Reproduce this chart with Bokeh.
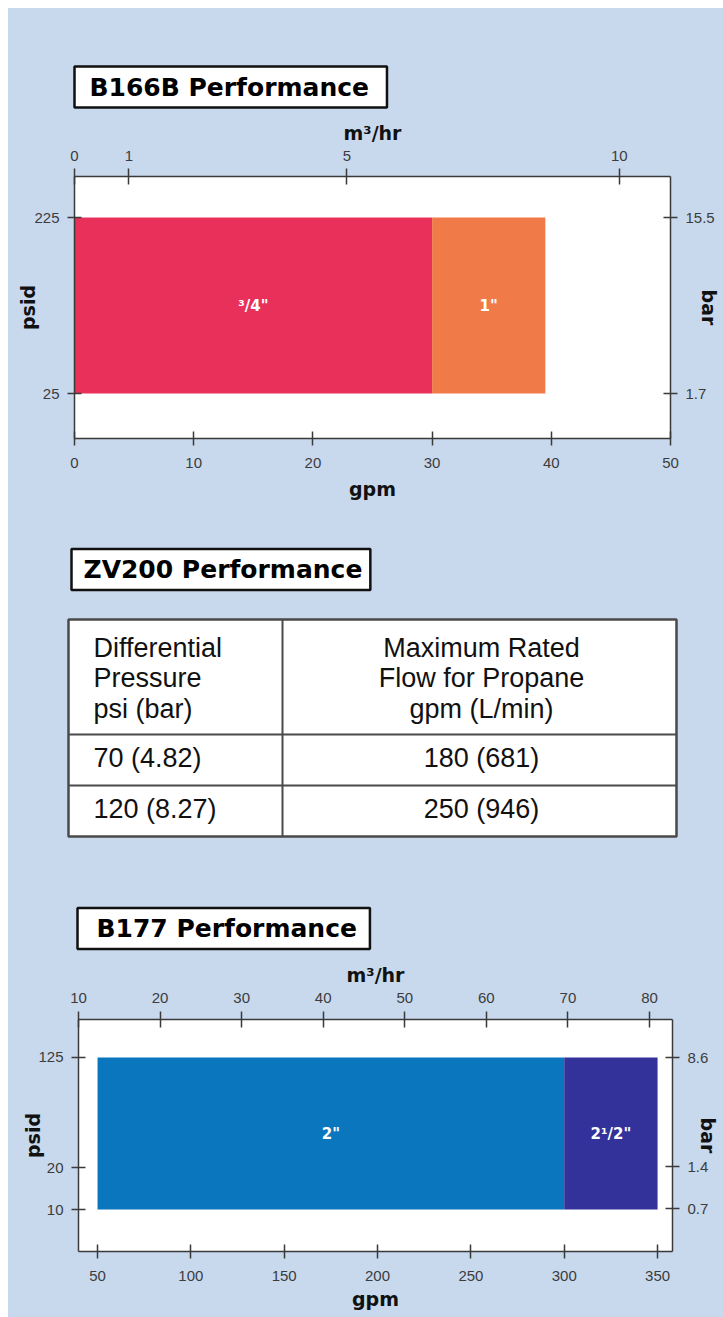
import math
from bokeh.plotting import figure
from bokeh.models import (Range1d, LinearAxis, FixedTicker, Title, Span, LogScale,
                          ColumnDataSource, Spacer)
from bokeh.layouts import column, row
from bokeh.embed import file_html
from bokeh.resources import INLINE
from bokeh.core.properties import value

# ---------------- data ----------------
PSI_TO_BAR = 0.0689476

# B166B
b166_sizes = ['³/4"', '1"']
b166_gpm_start = [0, 30]
b166_gpm_end = [30, 39.5]
b166_psid_low = [25, 25]
b166_psid_high = [225, 225]
b166_colors = ["#e8305a", "#f07b48"]
b166_gpm_ticks = [0, 10, 20, 30, 40, 50]
b166_m3_ticks = [0, 1, 5, 10]
b166_psid_ticks = [25, 225]
b166_bar_ticks = [1.7, 15.5]

# ZV200 table
zv_head_pressure = ["Differential", "Pressure", "psi (bar)"]
zv_head_flow = ["Maximum Rated", "Flow for Propane", "gpm (L/min)"]
zv_pressure = ["70 (4.82)", "120 (8.27)"]
zv_flow = ["180 (681)", "250 (946)"]

# B177
b177_sizes = ['2"', '2¹/2"']
b177_gpm_start = [50, 300]
b177_gpm_end = [300, 350]
b177_psid_low = [10, 10]
b177_psid_high = [125, 125]
b177_colors = ["#0a76bd", "#33319a"]
b177_gpm_ticks = [50, 100, 150, 200, 250, 300, 350]
b177_m3_ticks = [10, 20, 30, 40, 50, 60, 70, 80]
b177_psid_ticks = [10, 20, 125]
b177_bar_ticks = [0.7, 1.4, 8.6]

# ---------------- style ----------------
BG = "#c8d9ee"
AXIS_COLOR = "#3a3a3a"
W = 715


def style_axis(ax, label_standoff, axis_label_standoff, tin=7, tout=7):
    ax.axis_line_color = AXIS_COLOR
    ax.axis_line_width = 1.5
    ax.major_tick_line_color = AXIS_COLOR
    ax.major_tick_line_width = 1.5
    ax.major_tick_in = tin
    ax.major_tick_out = tout
    ax.minor_tick_line_color = None
    ax.major_label_text_font = "Liberation Sans"
    ax.major_label_text_font_size = "15px"
    ax.major_label_text_color = "#3c3c3c"
    ax.major_label_standoff = label_standoff
    ax.axis_label_text_font = "DejaVu Sans"
    ax.axis_label_text_font_style = "bold"
    ax.axis_label_text_font_size = "19px"
    ax.axis_label_text_color = "#111111"
    ax.axis_label_standoff = axis_label_standoff


def make_title(text, standoff, offset, pad_l, pad_r):
    return Title(text=text, align="left", offset=offset, standoff=standoff,
                 text_font="DejaVu Sans", text_font_style="bold",
                 text_font_size="25px", text_color="#000000",
                 background_fill_color="white", border_line_color="#111111",
                 border_line_width=2.5,
                 padding=dict(left=pad_l, right=pad_r, top=6, bottom=6))


def perf_chart(title, height, borders, x_rng, y_rng, m3_rng, log_y,
               starts, ends, lows, highs, colors, sizes,
               gpm_ticks, m3_ticks, psid_ticks, bar_ticks, std):
    bl, br, bt, bb = borders
    kw = {}
    if log_y:
        kw["extra_y_scales"] = {"bar": LogScale()}
    p = figure(width=W, height=height, output_backend="svg", toolbar_location=None,
               x_range=Range1d(*x_rng), y_range=Range1d(*y_rng),
               y_axis_type="log" if log_y else "linear",
               x_axis_location=None, y_axis_location=None, title=None,
               frame_align=False,
               min_border_left=bl, min_border_right=br,
               min_border_top=bt, min_border_bottom=bb, **kw)
    p.extra_x_ranges = {"m3": Range1d(*m3_rng)}
    p.extra_y_ranges = {"bar": Range1d(y_rng[0] * PSI_TO_BAR, y_rng[1] * PSI_TO_BAR)}
    p.background_fill_color = "white"
    p.border_fill_color = BG
    p.outline_line_color = None
    p.xgrid.visible = False
    p.ygrid.visible = False

    src = ColumnDataSource(dict(left=starts, right=ends, bottom=lows, top=highs,
                                color=colors, label=sizes,
                                xm=[(a + b) / 2 for a, b in zip(starts, ends)],
                                ym=[math.sqrt(a * b) if log_y else (a + b) / 2
                                    for a, b in zip(lows, highs)]))
    p.quad(left="left", right="right", bottom="bottom", top="top", source=src,
           fill_color="color", line_color=None)
    p.text(x="xm", y="ym", text="label", source=src,
           text_font=value("DejaVu Sans"), text_font_style="bold",
           text_font_size="15px", text_color="white",
           text_align="center", text_baseline="middle")

    below = LinearAxis(axis_label="gpm", ticker=FixedTicker(ticks=gpm_ticks))
    style_axis(below, std["below"][0], std["below"][1])
    p.add_layout(below, "below")

    above = LinearAxis(axis_label="m³/hr", x_range_name="m3",
                       ticker=FixedTicker(ticks=m3_ticks))
    style_axis(above, std["above"][0], std["above"][1], 8, 8)
    p.add_layout(above, "above")

    left = LinearAxis(axis_label="psid", ticker=FixedTicker(ticks=psid_ticks))
    style_axis(left, std["left"][0], std["left"][1])
    p.add_layout(left, "left")

    right = LinearAxis(axis_label="bar", y_range_name="bar",
                       ticker=FixedTicker(ticks=bar_ticks))
    style_axis(right, std["right"][0], std["right"][1])
    p.add_layout(right, "right")

    p.add_layout(make_title(title, *std["title"]), "above")
    return p


p1 = perf_chart("B166B Performance", 505, (66, 53, 168, 75),
                (0, 50), (-26.1, 271.6), (0, 10.94), False,
                b166_gpm_start, b166_gpm_end, b166_psid_low, b166_psid_high,
                b166_colors, b166_sizes,
                b166_gpm_ticks, b166_m3_ticks, b166_psid_ticks, b166_bar_ticks,
                dict(below=(12, 7), above=(8, 4), left=(8, -8), right=(8, -20),
                     title=(22, 0, 15, 18)))

# ---------------- ZV200 table ----------------
TW, TH = 608, 217
p2 = figure(width=W, height=357, output_backend="svg", toolbar_location=None,
            x_range=Range1d(0, TW), y_range=Range1d(0, TH),
            x_axis_location=None, y_axis_location=None, title=None,
            frame_align=False,
            min_border_left=60, min_border_right=47, min_border_top=106,
            min_border_bottom=34)
p2.background_fill_color = "white"
p2.border_fill_color = BG
p2.outline_line_color = "#4a4a4a"
p2.outline_line_width = 2.5
p2.xgrid.visible = False
p2.ygrid.visible = False
COL_X = 214
ROW_Y = [102, 51]
p2.add_layout(Span(location=COL_X, dimension="height", line_color="#4a4a4a", line_width=2))
for ry in ROW_Y:
    p2.add_layout(Span(location=ry, dimension="width", line_color="#4a4a4a", line_width=2))

head_y = [189, 159, 128]
row_y = [79, 28]
tfont = dict(text_font=value("Liberation Sans"), text_font_size="27px",
             text_color="#111111", text_baseline="middle")
p2.text(x=[25] * 3, y=head_y, text=zv_head_pressure, text_align="left", **tfont)
p2.text(x=[413] * 3, y=head_y, text=zv_head_flow, text_align="center", **tfont)
p2.text(x=[25] * 2, y=row_y, text=zv_pressure, text_align="left", **tfont)
p2.text(x=[413] * 2, y=row_y, text=zv_flow, text_align="center", **tfont)
p2.add_layout(make_title("ZV200 Performance", 59, 3, 12, 8), "above")

p3 = perf_chart("B177 Performance", 447, (70, 51, 149, 66),
                (39.8, 358), (4.98, 235), (10.0, 82.82), True,
                b177_gpm_start, b177_gpm_end, b177_psid_low, b177_psid_high,
                b177_colors, b177_sizes,
                b177_gpm_ticks, b177_m3_ticks, b177_psid_ticks, b177_bar_ticks,
                dict(below=(12, 4), above=(9, 4), left=(8, -9), right=(8, -14),
                     title=(23, -1, 19, 13)))

charts = column(p1, p2, p3, spacing=0, styles={"background-color": BG})
layout = column(Spacer(width=723, height=8),
                row(Spacer(width=8, height=1309), charts, spacing=0),
                spacing=0)
open("out.html", "w").write(file_html(layout, INLINE))
